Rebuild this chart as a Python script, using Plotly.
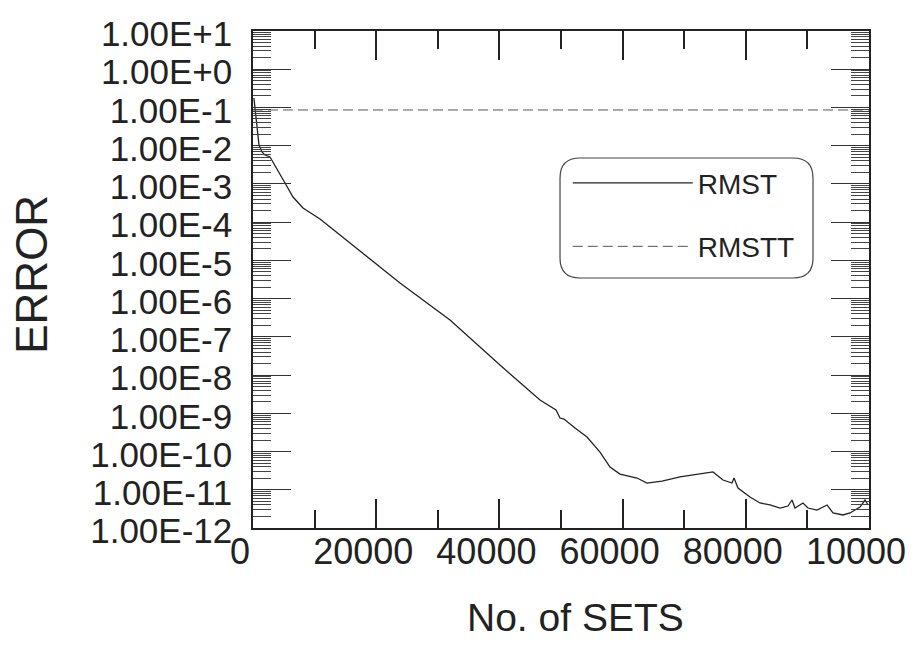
import plotly.graph_objects as go

# ---- data ----
sets_rmst = [150, 325, 487, 650, 974, 1461, 1948, 2760, 3247, 4058, 5195, 6494, 8117,
             10877, 15747, 23864, 31981, 40097, 46591, 49188, 49838, 50487, 52273, 54221,
             56331, 57955, 59578, 61201, 62338, 63961, 65260, 66396, 69318, 72565, 74675,
             76299, 77760, 78084, 78734, 80682, 82305, 83929, 85552, 86851, 87500, 87987,
             89286, 90097, 91558, 93182, 94156, 95779, 96916, 98539, 99351, 99838]
err_rmst = [0.177, 0.097, 0.047, 0.0215, 0.0104, 0.00684, 0.0057, 0.00506, 0.00374,
            0.00231, 0.00106, 4.55e-4, 2.34e-4, 1.21e-4, 2.85e-5, 2.56e-6, 2.76e-7,
            1.83e-8, 2.23e-9, 1.22e-9, 7.53e-10, 7.09e-10, 4.12e-10, 2.40e-10, 9.7e-11,
            3.94e-11, 2.58e-11, 2.29e-11, 2.03e-11, 1.50e-11, 1.60e-11, 1.69e-11,
            2.16e-11, 2.58e-11, 2.92e-11, 1.80e-11, 1.50e-11, 2.03e-11, 1.11e-11,
            6.47e-12, 4.51e-12, 4.00e-12, 3.33e-12, 3.76e-12, 5.40e-12, 3.33e-12,
            4.51e-12, 3.33e-12, 2.95e-12, 4.00e-12, 2.47e-12, 2.19e-12, 2.47e-12,
            3.54e-12, 5.40e-12, 4.00e-12]

sets_rmstt = [0, 100000]
err_rmstt = [0.086, 0.086]

x_tickvals = [0, 20000, 40000, 60000, 80000, 100000]
x_ticktext = ["0", "20000", "40000", "60000", "80000", "10000"]
x_minor = [10000, 30000, 50000, 70000, 90000]
y_exponents = list(range(1, -13, -1))
y_tickvals = [10.0 ** e for e in y_exponents]
y_ticktext = ["1.00E+1", "1.00E+0"] + ["1.00E%d" % e for e in y_exponents[2:]]
y_minor = [k * 10.0 ** e for e in range(-12, 1) for k in range(2, 10)]

FONT = "Liberation Sans, Arial, sans-serif"
INK = "#222222"

fig = go.Figure()
fig.add_trace(go.Scatter(x=sets_rmst, y=err_rmst, mode="lines", name="RMST",
                         legendgroup="a",
                         line=dict(color="#222222", width=1.3)))
fig.add_trace(go.Scatter(x=sets_rmstt, y=err_rmstt, mode="lines", name="RMSTT",
                         legendgroup="b",
                         line=dict(color="#555555", width=1, dash="10px,5px")))

# rounded legend frame (paper fractions)
bx0, bx1, by0, by1, rx, ry = 0.4984, 0.9091, 0.503, 0.7445, 0.0325, 0.0402
frame = (f"M {bx0+rx},{by1} L {bx1-rx},{by1} Q {bx1},{by1} {bx1},{by1-ry} "
         f"L {bx1},{by0+ry} Q {bx1},{by0} {bx1-rx},{by0} "
         f"L {bx0+rx},{by0} Q {bx0},{by0} {bx0},{by0+ry} "
         f"L {bx0},{by1-ry} Q {bx0},{by1} {bx0+rx},{by1} Z")

fig.update_layout(
    width=906, height=638,
    margin=dict(l=245, r=45, t=23, b=118),
    paper_bgcolor="white", plot_bgcolor="white",
    font=dict(family=FONT, color=INK),
    showlegend=True,
    legend=dict(x=0.511, y=0.744, xanchor="left", yanchor="top",
                bgcolor="rgba(0,0,0,0)", borderwidth=0,
                font=dict(size=28, family=FONT, color=INK),
                itemwidth=120, tracegroupgap=24, traceorder="grouped"),
    xaxis=dict(range=[0, 100000], tickvals=x_tickvals, ticktext=x_ticktext,
               ticks="inside", ticklen=29, tickwidth=1.5, tickcolor="#222",
               showline=True, linecolor="#222", linewidth=1.5, mirror="ticks",
               showgrid=False, zeroline=False, automargin=False,
               tickfont=dict(size=36, family=FONT, color=INK),
               ticklabelshift=-13, ticklabelstandoff=-9,
               minor=dict(tickvals=x_minor,
                          ticks="inside", ticklen=18, tickwidth=1.5, tickcolor="#222",
                          showgrid=False)),
    yaxis=dict(type="log", range=[-12, 1], tickvals=y_tickvals, ticktext=y_ticktext,
               ticks="inside", ticklen=38, tickwidth=1, tickcolor="#333",
               showline=True, linecolor="#222", linewidth=1.5, mirror="ticks",
               showgrid=False, zeroline=False, automargin=False,
               tickfont=dict(size=35, family=FONT, color=INK),
               ticklabelshift=3, ticklabelstandoff=12,
               minor=dict(tickvals=y_minor, ticks="inside", ticklen=18, tickwidth=1,
                          tickcolor="#444", showgrid=False)),
    shapes=[dict(type="path", xref="paper", yref="paper", layer="below",
                 path=frame, line=dict(color="#444", width=1.2))],
    annotations=[
        dict(text="ERROR", xref="paper", yref="paper", x=-0.36, y=0.51,
             textangle=-90, showarrow=False, xanchor="center", yanchor="middle",
             font=dict(size=44, family=FONT, color=INK)),
        dict(text="No. of SETS", xref="paper", yref="paper", x=0.523, y=-0.18,
             showarrow=False, xanchor="center", yanchor="middle",
             font=dict(size=39, family=FONT, color=INK)),
    ],
)

fig.write_html("out.html")
